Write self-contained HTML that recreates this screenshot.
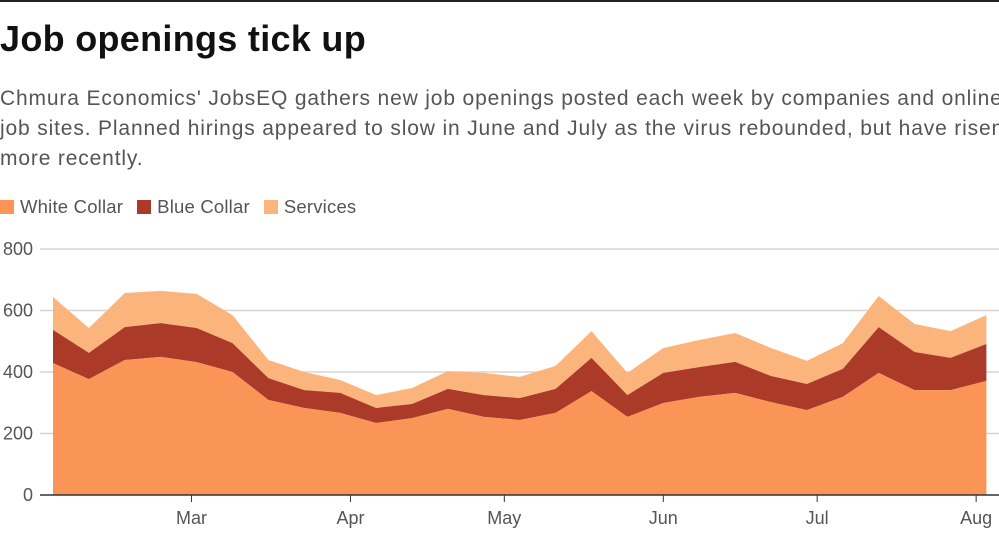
<!DOCTYPE html>
<html><head><meta charset="utf-8"><style>
body{margin:0;width:999px;height:550px;overflow:hidden;background:#fff;font-family:"Liberation Sans",sans-serif;}
#topline{position:absolute;left:0;top:0;width:999px;height:2px;background:#222;}
h1{position:absolute;left:0;top:18px;margin:0;font-size:36px;font-weight:bold;color:#111;letter-spacing:0.3px;white-space:nowrap;}
#sub{position:absolute;left:0;top:84px;width:1200px;font-size:21px;letter-spacing:0.85px;line-height:30px;color:#555;white-space:nowrap;}
#legend{position:absolute;left:0;top:196px;font-size:18.5px;letter-spacing:0.2px;color:#555;display:flex;gap:14px;align-items:center;}
.li{display:flex;align-items:center;gap:6px;}
.sw{width:14px;height:14px;display:inline-block;}
svg{position:absolute;left:0;top:0;}
</style></head><body>
<div id="topline"></div>
<h1>Job openings tick up</h1>
<div id="sub">Chmura Economics' JobsEQ gathers new job openings posted each week by companies and online<br>job sites. Planned hirings appeared to slow in June and July as the virus rebounded, but have risen<br>more recently.</div>
<div id="legend">
<span class="li"><span class="sw" style="background:#fa9557"></span>White Collar</span>
<span class="li"><span class="sw" style="background:#ab3a28"></span>Blue Collar</span>
<span class="li"><span class="sw" style="background:#fbb57c"></span>Services</span>
</div>
<svg id="chart" width="999" height="550"></svg>
<script>
const whiteCollar=[429,377,439,449,432,400,309,283,267,234,250,280,254,244,267,338,254,299,319,332,302,276,319,397,341,341,371];
const blueCollar=[108,85,107,110,111,94,71,58,65,49,46,65,71,71,78,108,71,98,97,101,85,85,91,149,124,105,120];
const services=[107,81,111,105,111,91,59,59,42,42,52,58,72,69,75,87,72,81,88,94,91,75,84,101,91,87,94];
const yTicks=[0,200,400,600,800];
const monthLabels=["Mar","Apr","May","Jun","Jul","Aug"];
const monthDays=[27,58,88,119,149,180];
const svg=document.getElementById('chart');
const NS='http://www.w3.org/2000/svg';
const x=i=>53+i*35.9;
const y=v=>495-v*0.3075;
function mk(t,a){const e=document.createElementNS(NS,t);for(const k in a)e.setAttribute(k,a[k]);svg.appendChild(e);return e;}
yTicks.forEach(v=>{
  if(v>0){const g=mk('line',{x1:40,x2:999,y1:y(v),y2:y(v),stroke:'#d6d6d6','stroke-width':1.5});
  
  }
  const t=mk('text',{x:33,y:y(v)+6,'text-anchor':'end','font-size':18,fill:'#555','font-family':'Liberation Sans, sans-serif'});
  t.textContent=v;
  
  
});
const n=whiteCollar.length;
const c1=whiteCollar.slice(), c2=whiteCollar.map((v,i)=>v+blueCollar[i]), c3=c2.map((v,i)=>v+services[i]);
function area(top,bot,fill,name){
  let d='M'+x(0)+','+y(top[0]);
  for(let i=1;i<n;i++)d+='L'+x(i)+','+y(top[i]);
  for(let i=n-1;i>=0;i--)d+='L'+x(i)+','+y(bot?bot[i]:0);
  const p=mk('path',{d:d+'Z',fill:fill});
  
  
}
area(c3,c2,'#fbb57c','services-area');
area(c2,c1,'#ab3a28','blue-collar-area');
area(c1,null,'#fa9557','white-collar-area');
const ax=mk('line',{x1:40,x2:999,y1:495,y2:495,stroke:'#333','stroke-width':1.5});


monthLabels.forEach((m,k)=>{
  const xx=x(monthDays[k]/7);
  const tk=mk('line',{x1:xx,x2:xx,y1:495,y2:502,stroke:'#333','stroke-width':1});
  
  
  const t=mk('text',{x:xx,y:524,'text-anchor':'middle','font-size':18,fill:'#555','font-family':'Liberation Sans, sans-serif'});
  t.textContent=m;
  
  
});
</script>
</body></html>
